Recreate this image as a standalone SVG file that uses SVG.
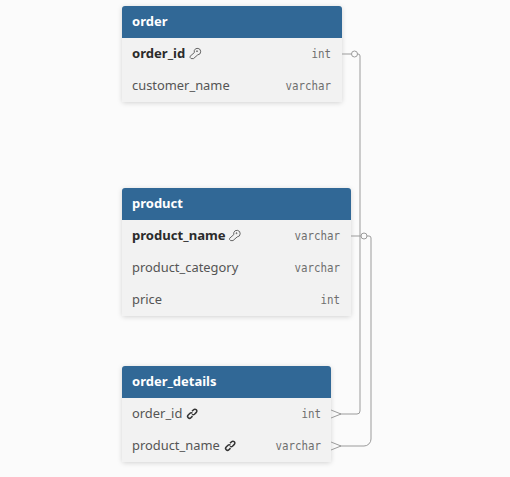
<svg xmlns="http://www.w3.org/2000/svg" width="510" height="477" viewBox="0 0 510 477">
<style>
.card{fill:#f2f2f2;filter:url(#sh)}
.head{fill:#316896}
.title{font:700 13px "Noto Sans",sans-serif;fill:#fff}
.pk{font:700 13.100px "Noto Sans",sans-serif;fill:#2b2b2b}
.col{font:400 12.900px "Noto Sans",sans-serif;fill:#555}
.typ{font:400 12px "DejaVu Sans Mono",monospace;fill:#6e6e6e;text-anchor:end}
.line{fill:none;stroke:#9b9b9b;stroke-width:1}
.dot{fill:#fbfbfb;stroke:#9b9b9b;stroke-width:1}
.ico{fill:none;stroke:#555;stroke-width:.9}
.fk{fill:none;stroke:#333;stroke-width:1.500}
</style>
<defs>
<filter id="sh" x="-10%" y="-10%" width="120%" height="125%"><feDropShadow dx="0" dy="1" stdDeviation="2.500" flood-color="#000" flood-opacity="0.16"/></filter>
<g id="key"><path class="ico" d="M4.800 2.500a3.300 3.300 0 1 1 3.400 4.400L4 10.600H1.600L.6 9.500V8.300L4.800 4.600z"/><circle cx="7.500" cy="3.200" r=".5" class="ico"/></g>
<g id="link"><path class="fk" d="M5 3.300L6.600 1.700a1.800 1.800 0 0 1 2.700 2.700L7.500 6.200a1.800 1.800 0 0 1-2.400 0"/><path class="fk" d="M5.500 8.100L3.900 9.700a1.800 1.800 0 0 1-2.700-2.700L3 5.200a1.800 1.800 0 0 1 2.400 0"/></g>
</defs>
<rect width="510" height="477" fill="#fbfbfb"/>
<g id="order">
<rect class="card" x="122" y="6" width="220" height="96" rx="3"/>
<path class="head" d="M122 38V9a3 3 0 0 1 3-3h214a3 3 0 0 1 3 3v29z"/>
<text class="title" x="132" y="26">order</text>
<text class="pk" x="132" y="58">order_id</text><use href="#key" x="189.500" y="48"/>
<text class="typ" x="331" y="58" textLength="19.500" lengthAdjust="spacingAndGlyphs">int</text>
<text class="col" x="132" y="90">customer_name</text>
<text class="typ" x="331" y="90" textLength="45.500" lengthAdjust="spacingAndGlyphs">varchar</text>
</g>
<g id="product">
<rect class="card" x="122" y="188" width="229" height="128" rx="3"/>
<path class="head" d="M122 220V191a3 3 0 0 1 3-3h223a3 3 0 0 1 3 3v29z"/>
<text class="title" x="132" y="208">product</text>
<text class="pk" x="132" y="240">product_name</text><use href="#key" x="229" y="230"/>
<text class="typ" x="340" y="240" textLength="45.500" lengthAdjust="spacingAndGlyphs">varchar</text>
<text class="col" x="132" y="272">product_category</text>
<text class="typ" x="340" y="272" textLength="45.500" lengthAdjust="spacingAndGlyphs">varchar</text>
<text class="col" x="132" y="304">price</text>
<text class="typ" x="340" y="304" textLength="19.500" lengthAdjust="spacingAndGlyphs">int</text>
</g>
<g id="order_details">
<rect class="card" x="122" y="366" width="209" height="96" rx="3"/>
<path class="head" d="M122 398V369a3 3 0 0 1 3-3h203a3 3 0 0 1 3 3v29z"/>
<text class="title" x="132" y="386">order_details</text>
<text class="col" x="132" y="418">order_id</text><use href="#link" x="187" y="408"/>
<text class="typ" x="321" y="418" textLength="19.500" lengthAdjust="spacingAndGlyphs">int</text>
<text class="col" x="132" y="450">product_name</text><use href="#link" x="225" y="440"/>
<text class="typ" x="321" y="450" textLength="45.500" lengthAdjust="spacingAndGlyphs">varchar</text>
</g>
<g id="connectors">
<path class="line" d="M342 54H358a2 2 0 0 1 2 2V411a3 3 0 0 1-3 3H340M331 410L341 414 331 418"/>
<circle class="dot" cx="354.500" cy="54" r="3"/>
<path class="line" d="M351 236H369a2 2 0 0 1 2 2V439a7 7 0 0 1-7 7H340M331 442L341 446 331 450"/>
<circle class="dot" cx="364" cy="236" r="3"/>
</g>
</svg>
